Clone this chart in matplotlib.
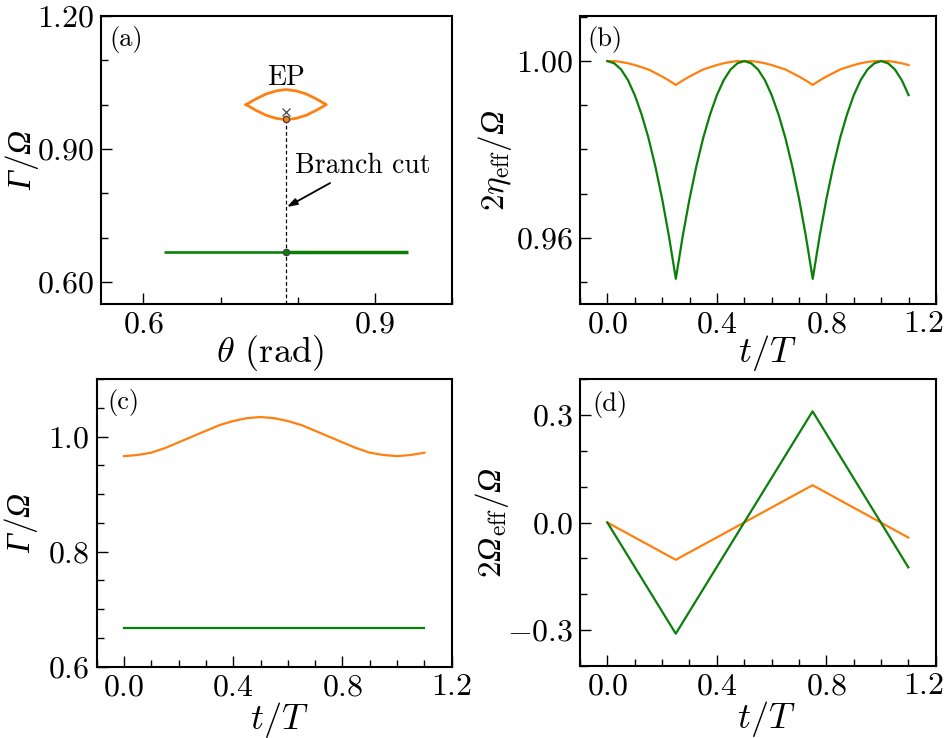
import numpy as np
import matplotlib
matplotlib.use('Agg')
import matplotlib.pyplot as plt
from matplotlib.ticker import MultipleLocator
from matplotlib.transforms import ScaledTranslation

plt.rcParams.update({
    'font.family': 'serif',
    'font.serif': ['cmr10'],
    'mathtext.fontset': 'custom',
    'mathtext.rm': 'cmr10',
    'mathtext.it': 'cmmi10',
    'mathtext.bf': 'cmb10',
    'mathtext.cal': 'Liberation Serif:italic',
    'mathtext.fallback': 'cm',
})

orange = '#ff8010'
green = '#0a800a'

# (a) eigenvalue trajectory vs theta
theta_green = [0.627, 0.785, 0.943]
gamma_green = [0.667, 0.667, 0.667]
lens_theta = [0.733, 0.746, 0.759, 0.772, 0.785, 0.798, 0.811, 0.824, 0.837]
lens_upper = [1.000, 1.013, 1.024, 1.031, 1.034, 1.031, 1.024, 1.013, 1.000]
lens_lower = [1.000, 0.987, 0.976, 0.969, 0.966, 0.969, 0.976, 0.987, 1.000]
theta_ep = 0.785
gamma_cross = 0.983
gamma_dot_orange = 0.968
gamma_dot_green = 0.667

# (b) 2 eta_eff / Omega, t/T = 0 ... 1.1 step 0.025
t_b = np.linspace(0, 1.1, 45)
eta_green = [1.0000, 0.9995, 0.9981, 0.9957, 0.9923, 0.9879, 0.9826, 0.9762, 0.9688, 0.9603, 0.9507,
             0.9603, 0.9688, 0.9762, 0.9826, 0.9879, 0.9923, 0.9957, 0.9981, 0.9995, 1.0000,
             0.9995, 0.9981, 0.9957, 0.9923, 0.9879, 0.9826, 0.9762, 0.9688, 0.9603, 0.9507,
             0.9603, 0.9688, 0.9762, 0.9826, 0.9879, 0.9923, 0.9957, 0.9981, 0.9995, 1.0000,
             0.9995, 0.9981, 0.9957, 0.9923]
eta_orange = [1.0000, 1.0000, 0.9998, 0.9995, 0.9991, 0.9986, 0.9981, 0.9973, 0.9965, 0.9956, 0.9946,
              0.9956, 0.9965, 0.9973, 0.9981, 0.9986, 0.9991, 0.9995, 0.9998, 1.0000, 1.0000,
              1.0000, 0.9998, 0.9995, 0.9991, 0.9986, 0.9981, 0.9973, 0.9965, 0.9956, 0.9946,
              0.9956, 0.9965, 0.9973, 0.9981, 0.9986, 0.9991, 0.9995, 0.9998, 1.0000, 1.0000,
              1.0000, 0.9998, 0.9995, 0.9991]

# (c) Gamma / Omega, t/T = 0 ... 1.1 step 0.05
t_c = np.linspace(0, 1.1, 23)
gam_orange = [0.966, 0.968, 0.972, 0.980, 0.990, 1.000, 1.010, 1.020, 1.027, 1.032, 1.034,
              1.032, 1.027, 1.020, 1.010, 1.000, 0.990, 0.980, 0.972, 0.968, 0.966,
              0.968, 0.972]
gam_green = [0.667] * 23

# (d) 2 Omega_eff / Omega
t_d = [0.0, 0.25, 0.75, 1.1]
om_green = [0.0, -0.31, 0.31, -0.125]
om_orange = [0.0, -0.104, 0.104, -0.042]

tick_fs = 23
xlabel_fs = 26
ylabel_fs = 24
panel_fs = 19


def style(ax, xmaj, xmin, ymaj, ymin, xlabels, ylabels):
    ax.set_xticks(xmaj)
    ax.set_xticklabels(xlabels)
    ax.set_yticks(ymaj)
    ax.set_yticklabels(ylabels)
    ax.xaxis.set_minor_locator(MultipleLocator(xmin))
    ax.yaxis.set_minor_locator(MultipleLocator(ymin))
    ax.tick_params(which='both', direction='in', top=False, right=False,
                   labelsize=tick_fs, width=1.0, pad=5)
    ax.tick_params(which='major', length=8)
    ax.tick_params(which='minor', length=5)
    for s in ax.spines.values():
        s.set_linewidth(1.5)


fig = plt.figure(figsize=(9.46, 7.38), dpi=100)
ax_a = fig.add_axes([0.1068, 0.5881, 0.3710, 0.3902])
ax_b = fig.add_axes([0.6131, 0.5881, 0.3763, 0.3902])
ax_c = fig.add_axes([0.1022, 0.0966, 0.3753, 0.3898])
ax_d = fig.add_axes([0.6131, 0.0976, 0.3760, 0.3888])

# panel (a)
ax_a.plot(theta_green[:2], gamma_green[:2], color=green, lw=1.9, solid_capstyle='butt')
ax_a.plot(theta_green[1:], gamma_green[1:], color=green, lw=2.5, solid_capstyle='butt')
ax_a.plot(lens_theta + lens_theta[::-1], lens_upper + lens_lower[::-1], color=orange, lw=2.0)
ax_a.plot([theta_ep, theta_ep], [0.55, gamma_dot_orange], color='k', lw=0.9, ls=(0, (3, 2)))
ax_a.plot(theta_ep, gamma_dot_orange, 'o', ms=4.5, mfc=orange, mec='#444444', mew=1.0)
ax_a.plot(theta_ep, gamma_dot_green, 'o', ms=4.5, mfc=green, mec='#444444', mew=1.0)
ax_a.plot(theta_ep, gamma_cross, 'x', ms=6, color='#444444', mew=0.9)
ax_a.text(theta_ep, 1.061, 'EP', ha='center', va='center', fontsize=20)
ax_a.text(0.797, 0.862, 'Branch cut', ha='left', va='center', fontsize=20)
ax_a.annotate('', xy=(0.786, 0.769), xytext=(0.842, 0.823),
              arrowprops=dict(arrowstyle='-|>,head_length=0.6,head_width=0.2',
                              color='k', lw=1.3, shrinkA=0, shrinkB=0))
ax_a.set_xlim(0.545, 1.0)
ax_a.set_ylim(0.55, 1.20)
style(ax_a, [0.6, 0.9], 0.1, [0.6, 0.9, 1.2], 0.1,
      ['$0.6$', '$0.9$'], ['$0.60$', '$0.90$', '$1.20$'])
ax_a.set_xlabel(r'$\theta$ (rad)', fontsize=xlabel_fs)
ax_a.set_ylabel(r'$\mathcal{Γ}/\mathcal{Ω}$', fontsize=ylabel_fs)
ax_a.xaxis.set_label_coords(0.48, -0.10)
ax_a.yaxis.set_label_coords(-0.17, 0.5)
ax_a.text(0.025, 0.965, '(a)', transform=ax_a.transAxes, ha='left', va='top', fontsize=panel_fs)

# panel (b)
ax_b.plot(t_b, eta_orange, color=orange, lw=1.6)
ax_b.plot(t_b, eta_green, color=green, lw=1.6)
ax_b.set_xlim(-0.1, 1.2)
ax_b.set_ylim(0.945, 1.0102)
style(ax_b, [0.0, 0.4, 0.8, 1.2], 0.1, [0.96, 1.00], 0.01,
      ['$0.0$', '$0.4$', '$0.8$', '$1.2$'], ['$0.96$', '$1.00$'])
ax_b.set_xlabel(r'$t/T$', fontsize=xlabel_fs)
ax_b.set_ylabel(r'$2\eta_{\mathrm{eff}}/\mathcal{Ω}$', fontsize=ylabel_fs)
ax_b.xaxis.set_label_coords(0.525, -0.10)
ax_b.yaxis.set_label_coords(-0.185, 0.5)
ax_b.text(0.022, 0.965, '(b)', transform=ax_b.transAxes, ha='left', va='top', fontsize=panel_fs)

# panel (c)
ax_c.plot(t_c, gam_orange, color=orange, lw=1.6)
ax_c.plot(t_c, gam_green, color=green, lw=1.6)
ax_c.set_xlim(-0.1, 1.2)
ax_c.set_ylim(0.6, 1.1)
style(ax_c, [0.0, 0.4, 0.8, 1.2], 0.1, [0.6, 0.8, 1.0], 0.05,
      ['$0.0$', '$0.4$', '$0.8$', '$1.2$'], ['$0.6$', '$0.8$', '$1.0$'])
ax_c.set_xlabel(r'$t/T$', fontsize=xlabel_fs)
ax_c.set_ylabel(r'$\mathcal{Γ}/\mathcal{Ω}$', fontsize=ylabel_fs)
ax_c.xaxis.set_label_coords(0.515, -0.115)
ax_c.yaxis.set_label_coords(-0.16, 0.5)
ax_c.text(0.03, 0.965, '(c)', transform=ax_c.transAxes, ha='left', va='top', fontsize=panel_fs)

# panel (d)
ax_d.plot(t_d, om_orange, color=orange, lw=1.6)
ax_d.plot(t_d, om_green, color=green, lw=1.6)
ax_d.set_xlim(-0.1, 1.2)
ax_d.set_ylim(-0.4, 0.4)
style(ax_d, [0.0, 0.4, 0.8, 1.2], 0.1, [-0.3, 0.0, 0.3], 0.1,
      ['$0.0$', '$0.4$', '$0.8$', '$1.2$'], ['$-0.3$', '$0.0$', '$0.3$'])
ax_d.set_xlabel(r'$t/T$', fontsize=xlabel_fs)
ax_d.set_ylabel(r'$2\mathcal{Ω}_{\mathrm{eff}}/\mathcal{Ω}$', fontsize=ylabel_fs)
ax_d.xaxis.set_label_coords(0.525, -0.115)
ax_d.yaxis.set_label_coords(-0.195, 0.5)
ax_d.text(0.034, 0.96, '(d)', transform=ax_d.transAxes, ha='left', va='top', fontsize=panel_fs)

# the right-most "1.2" labels sit a little left of their tick, as in the original
for ax in (ax_b, ax_d):
    lab = ax.get_xticklabels()[-1]
    lab.set_transform(lab.get_transform() + ScaledTranslation(-0.12, 0, fig.dpi_scale_trans))

fig.savefig('out.png', dpi=100)
